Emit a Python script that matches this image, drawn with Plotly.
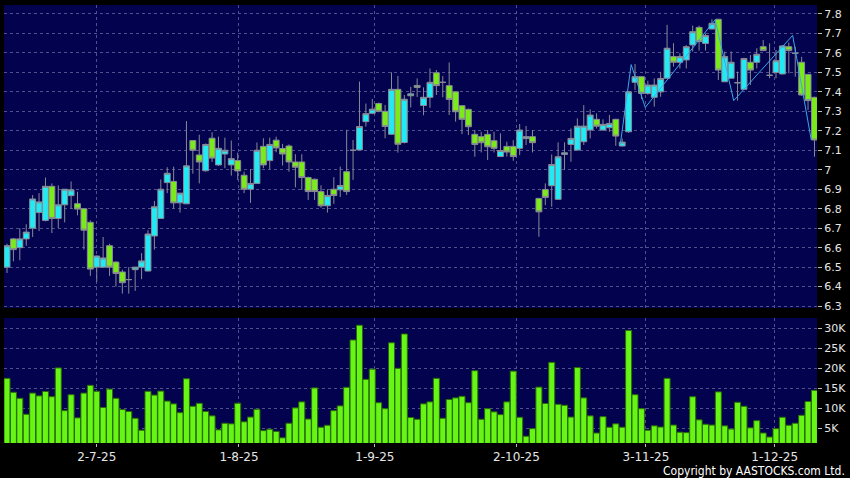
import plotly.graph_objects as go
from plotly.subplots import make_subplots

# daily OHLC (oldest first)
open_ = [6.50, 6.645, 6.60, 6.645, 6.70, 6.78, 6.74, 6.915, 6.75, 6.82,
         6.867, 6.826, 6.80, 6.73, 6.50, 6.50, 6.61, 6.526, 6.475, 6.436,
         6.487, 6.50, 6.48, 6.66, 6.75, 6.934, 6.94, 6.83, 6.825, 7.15,
         7.076, 6.995, 7.162, 7.025, 7.081, 7.025, 7.047, 6.972, 6.90, 6.93,
         7.12, 7.047, 7.152, 7.109, 7.122, 7.04, 7.04, 6.96, 6.951, 6.888,
         6.815, 6.90, 6.897, 6.99, 7.10, 7.102, 7.247, 7.29, 7.34, 7.30,
         7.182, 7.413, 7.14, 7.38, 7.433, 7.33, 7.372, 7.498, 7.449, 7.432,
         7.40, 7.329, 7.31, 7.182, 7.17, 7.182, 7.149, 7.068, 7.12, 7.12,
         7.11, 7.16, 7.17, 6.853, 6.899, 6.918, 6.848, 7.079, 7.13, 7.101,
         7.144, 7.204, 7.259, 7.204, 7.216, 7.259, 7.122, 7.195, 7.449, 7.478,
         7.392, 7.372, 7.40, 7.47, 7.581, 7.552, 7.564, 7.641, 7.731, 7.649,
         7.723, 7.773, 7.452, 7.47, 7.447, 7.413, 7.552, 7.552, 7.632, 7.485,
         7.50, 7.492, 7.632, 7.598, 7.552, 7.49, 7.372]
high = [6.62, 6.65, 6.70, 6.72, 6.87, 6.88, 6.96, 6.93, 6.92, 6.90,
        6.94, 6.887, 6.80, 6.74, 6.56, 6.655, 6.62, 6.53, 6.487, 6.50,
        6.50, 6.572, 6.69, 6.84, 6.95, 7.013, 7.016, 6.88, 7.25, 7.15,
        7.18, 7.135, 7.193, 7.17, 7.165, 7.15, 7.088, 6.99, 7.004, 7.14,
        7.162, 7.165, 7.17, 7.133, 7.13, 7.08, 7.08, 6.965, 6.955, 6.92,
        6.90, 6.962, 7.016, 7.205, 7.153, 7.453, 7.34, 7.364, 7.345, 7.333,
        7.50, 7.482, 7.384, 7.426, 7.469, 7.423, 7.52, 7.512, 7.481, 7.551,
        7.40, 7.33, 7.315, 7.204, 7.195, 7.204, 7.195, 7.187, 7.144, 7.152,
        7.235, 7.225, 7.204, 6.855, 6.93, 7.079, 7.141, 7.141, 7.212, 7.264,
        7.332, 7.31, 7.29, 7.259, 7.281, 7.262, 7.16, 7.405, 7.543, 7.48,
        7.457, 7.469, 7.503, 7.744, 7.65, 7.598, 7.64, 7.74, 7.74, 7.70,
        7.773, 7.775, 7.607, 7.607, 7.504, 7.575, 7.589, 7.624, 7.666, 7.649,
        7.615, 7.641, 7.653, 7.632, 7.58, 7.49, 7.375]
low = [6.47, 6.53, 6.535, 6.61, 6.655, 6.685, 6.735, 6.675, 6.70, 6.73,
       6.80, 6.766, 6.59, 6.455, 6.425, 6.495, 6.455, 6.40, 6.364, 6.364,
       6.378, 6.438, 6.478, 6.59, 6.75, 6.88, 6.80, 6.78, 6.825, 6.98,
       6.93, 6.99, 7.04, 7.02, 7.008, 6.97, 6.948, 6.88, 6.83, 6.93,
       7.008, 7.003, 7.09, 7.022, 6.99, 6.91, 6.897, 6.845, 6.845, 6.805,
       6.78, 6.825, 6.86, 6.871, 6.948, 7.10, 7.222, 7.285, 7.295, 7.162,
       7.18, 7.088, 7.135, 7.32, 7.374, 7.28, 7.318, 7.384, 7.372, 7.281,
       7.247, 7.183, 7.178, 7.067, 7.089, 7.05, 7.089, 7.065, 7.068, 7.046,
       7.075, 7.127, 7.089, 6.656, 6.818, 6.81, 6.845, 7.0, 7.041, 7.10,
       7.127, 7.161, 7.212, 7.20, 7.195, 7.123, 7.12, 7.19, 7.41, 7.363,
       7.385, 7.324, 7.375, 7.47, 7.53, 7.52, 7.52, 7.607, 7.612, 7.612,
       7.72, 7.461, 7.45, 7.468, 7.355, 7.41, 7.435, 7.52, 7.61, 7.47,
       7.47, 7.49, 7.495, 7.478, 7.38, 7.307, 7.067]
close = [6.61, 6.59, 6.645, 6.68, 6.85, 6.835, 6.915, 6.75, 6.82, 6.90,
         6.897, 6.798, 6.69, 6.49, 6.557, 6.547, 6.50, 6.467, 6.42, 6.436,
         6.50, 6.532, 6.67, 6.81, 6.90, 6.982, 6.83, 6.88, 7.02, 7.10,
         7.04, 7.13, 7.06, 7.11, 7.10, 7.057, 6.994, 6.90, 6.93, 7.10,
         7.025, 7.13, 7.112, 7.081, 7.04, 7.013, 6.96, 6.888, 6.888, 6.815,
         6.868, 6.868, 6.919, 6.888, 7.10, 7.222, 7.288, 7.311, 7.30, 7.222,
         7.413, 7.131, 7.362, 7.39, 7.423, 7.372, 7.449, 7.432, 7.449, 7.361,
         7.298, 7.259, 7.221, 7.13, 7.139, 7.118, 7.11, 7.099, 7.091, 7.068,
         7.204, 7.17, 7.139, 6.784, 6.858, 7.027, 7.067, 7.087, 7.161, 7.224,
         7.224, 7.281, 7.224, 7.233, 7.238, 7.173, 7.142, 7.40, 7.478, 7.392,
         7.435, 7.435, 7.469, 7.624, 7.552, 7.581, 7.632, 7.709, 7.658, 7.689,
         7.752, 7.512, 7.581, 7.552, 7.447, 7.571, 7.512, 7.593, 7.612, 7.485,
         7.56, 7.636, 7.612, 7.598, 7.384, 7.355, 7.153]

# volume in thousands
volume_k = [17.5, 14.0, 12.5, 8.5, 13.8, 13.1, 14.2, 12.9, 20.1, 9.4,
            13.4, 7.6, 13.8, 15.75, 14.25, 10.2, 14.8, 12.5, 9.7, 9.2,
            7.5, 4.5, 14.25, 13.3, 14.3, 11.8, 11.1, 8.9, 17.4, 10.5,
            11.25, 9.2, 8.1, 4.6, 6.25, 6.1, 11.25, 6.6, 7.8, 9.75,
            4.4, 4.75, 4.2, 2.6, 6.25, 10.1, 11.6, 7.3, 15.1, 5.25,
            5.75, 9.4, 10.6, 15.25, 27.1, 30.8, 17.25, 19.8, 11.4, 9.9,
            26.4, 20.0, 28.6, 7.7, 7.25, 11.1, 11.6,
            17.5, 7.5, 12.2, 12.6, 13.0, 11.4, 19.4, 7.25, 9.9, 9.1,
            8.4, 11.6, 19.3, 7.75, 3.0, 4.9, 15.3, 11.2, 21.5, 11.0,
            10.75, 7.8, 20.2, 12.6, 8.1, 3.8, 7.9, 5.25, 6.1, 5.25,
            29.5, 13.4, 9.9, 4.5, 5.6, 5.3, 17.5, 5.8, 4.0, 3.9,
            12.9, 7.1, 6.0, 5.8, 14.1, 5.6, 4.8, 11.5, 10.5, 5.1,
            6.9, 3.8, 2.8, 4.9, 7.75, 5.75, 6.25, 8.25, 11.7, 14.5]

# zigzag overlay (day position, price)
zz_x = [95.7, 97.4, 99.6, 110.5, 113.4, 122.6, 125.5]
zz_y = [7.13, 7.54, 7.32, 7.77, 7.355, 7.69, 7.153]

tick_pos = [14, 36.2, 57.4, 79.5, 99.7, 119.8]
tick_text = ["2-7-25", "1-8-25", "1-9-25", "2-10-25", "3-11-25", "1-12-25"]
vol_ticks = [5, 10, 15, 20, 25, 30]
vol_text = ["5K", "10K", "15K", "20K", "25K", "30K"]

days = list(range(len(close)))

GRID = "#50508c"
TXT = "#e6e6e6"

fig = make_subplots(rows=2, cols=1, shared_xaxes=True)

fig.add_trace(go.Candlestick(
    x=days, open=open_, high=high, low=low, close=close,
    increasing=dict(fillcolor="#22eaf4", line=dict(color="#8a8a96", width=1)),
    decreasing=dict(fillcolor="#7aea1a", line=dict(color="#8a8a96", width=1)),
    whiskerwidth=0, showlegend=False,
), row=1, col=1)

fig.add_trace(go.Scatter(
    x=zz_x, y=zz_y, mode="lines",
    line=dict(color="#3aa8e8", width=1), showlegend=False,
), row=1, col=1)

fig.add_trace(go.Bar(
    x=days, y=volume_k,
    marker=dict(color="#66f514", line=dict(color="#2a6a08", width=1)),
    showlegend=False,
), row=2, col=1)

axis_common = dict(
    showgrid=True, gridcolor=GRID, griddash="3px,3px", gridwidth=1,
    zeroline=False, showline=False, automargin=False,
)

fig.update_layout(
    width=850, height=478,
    margin=dict(l=0, r=0, t=0, b=0),
    paper_bgcolor="black", plot_bgcolor="#02024e",
    font=dict(family="DejaVu Sans", color=TXT, size=12),
    bargap=0.06, boxgap=0.08, boxgroupgap=0,
    xaxis=dict(domain=[0.0047, 0.9612], range=[-0.47, 126.4],
               tickvals=tick_pos, showticklabels=False, ticks="",
               rangeslider=dict(visible=False), **axis_common),
    xaxis2=dict(domain=[0.0047, 0.9612], range=[-0.47, 126.4], matches="x",
                tickvals=tick_pos, ticktext=tick_text, ticks="outside",
                ticklen=3, tickcolor="#bbbbbb",
                tickfont=dict(size=12, color=TXT), **axis_common),
    yaxis=dict(domain=[0.3556, 0.9895], range=[6.29, 7.846], side="right",
               tick0=6.3, dtick=0.1, ticks="outside", ticklen=4,
               tickcolor="#bbbbbb", tickfont=dict(size=11, color=TXT),
               **axis_common),
    yaxis2=dict(domain=[0.0732, 0.3347], range=[1.3, 32.6], side="right",
                tickvals=vol_ticks, ticktext=vol_text, ticks="outside",
                ticklen=4, tickcolor="#bbbbbb",
                tickfont=dict(size=11, color=TXT), **axis_common),
    annotations=[dict(
        text="Copyright by AASTOCKS.com Ltd.", xref="paper", yref="paper",
        x=0.997, y=-0.004, xanchor="right", yanchor="bottom", showarrow=False,
        font=dict(size=12, color="white",
                  family="Liberation Sans Narrow, DejaVu Sans Condensed, sans-serif"),
    )],
)

fig.write_html(
    "out.html",
    config={"displayModeBar": False},
    post_script="document.body.style.margin='0';document.body.style.background='black';",
)
